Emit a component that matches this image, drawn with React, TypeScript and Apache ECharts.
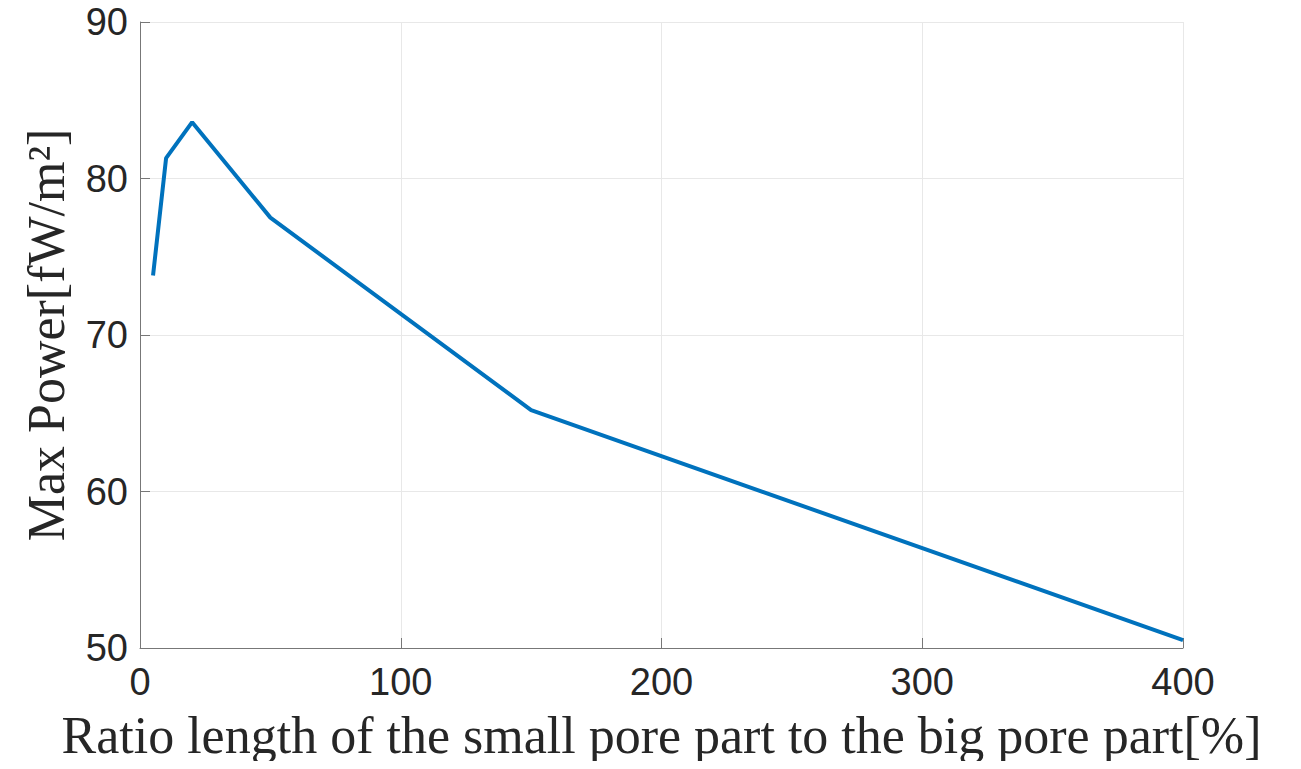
import React, { useEffect, useRef } from "react";
import * as echarts from "echarts";

// Ratio of small-pore length to big-pore length (%)
const ratioPercent: number[] = [5, 10, 20, 50, 150, 400];
// Maximum power (fW/m²)
const maxPower: number[] = [73.8, 81.3, 83.6, 77.5, 65.2, 50.5];

const xTicks = { min: 0, max: 400, interval: 100 };
const yTicks = { min: 50, max: 90, interval: 10 };

const xTitle = "Ratio length of the small pore part to the big pore part[%]";
const yTitle = "Max Power[fW/m²]";

export default function App() {
  const ref = useRef<HTMLDivElement>(null);

  useEffect(() => {
    if (!ref.current) return;
    const chart = echarts.init(ref.current, null, { renderer: "svg" });
    const tickFont = {
      fontFamily: "Liberation Sans, Arial, sans-serif",
      fontSize: 38,
      color: "#262626",
    };
    const titleFont = {
      fontFamily: "Liberation Serif, DejaVu Serif, serif",
      fontSize: 52,
      color: "#262626",
    };
    chart.setOption({
      animation: false,
      backgroundColor: "#ffffff",
      grid: {
        left: 140,
        right: 118,
        top: 22,
        bottom: 121,
        containLabel: false,
        outerBoundsMode: "none",
      },
      xAxis: {
        type: "value",
        min: xTicks.min,
        max: xTicks.max,
        interval: xTicks.interval,
        name: xTitle,
        nameLocation: "middle",
        nameGap: 61,
        nameTextStyle: titleFont,
        axisLine: { show: true, onZero: false, lineStyle: { color: "#777777", width: 1 } },
        axisTick: { show: true, inside: true, length: 10, lineStyle: { color: "#777777" } },
        axisLabel: { ...tickFont, margin: 15 },
        splitLine: { show: true, lineStyle: { color: "#e8e8e8", width: 1 } },
      },
      yAxis: {
        type: "value",
        min: yTicks.min,
        max: yTicks.max,
        interval: yTicks.interval,
        name: yTitle,
        nameLocation: "middle",
        nameGap: 68,
        nameTextStyle: titleFont,
        axisLine: { show: true, onZero: false, lineStyle: { color: "#777777", width: 1 } },
        axisTick: { show: true, inside: true, length: 10, lineStyle: { color: "#777777" } },
        axisLabel: { ...tickFont, margin: 12 },
        splitLine: { show: true, lineStyle: { color: "#e8e8e8", width: 1 } },
      },
      series: [
        {
          type: "line",
          data: ratioPercent.map((x, i) => [x, maxPower[i]]),
          showSymbol: false,
          symbol: "none",
          lineStyle: { color: "#0072BD", width: 4 },
        },
      ],
    });
    return () => chart.dispose();
  }, []);

  return <div ref={ref} style={{ width: 1301, height: 769, margin: -8 }} />;
}
